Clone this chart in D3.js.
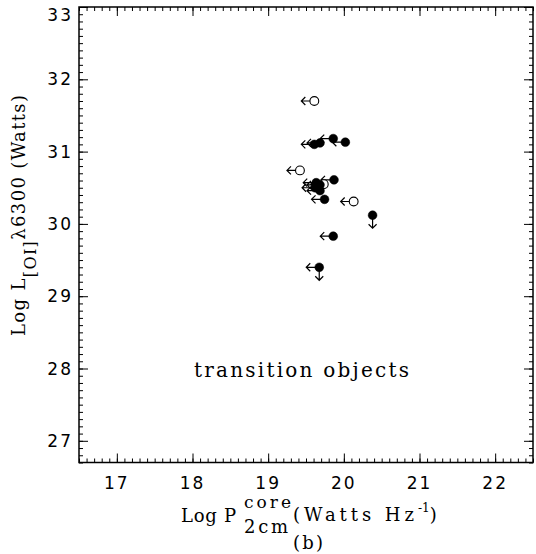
<!DOCTYPE html>
<html>
<head>
<meta charset="utf-8">
<script src="https://cdn.jsdelivr.net/npm/d3@7"></script>
<style>
body { margin: 0; background: #fff; }
svg { display: block; }
</style>
</head>
<body>
<svg width="536" height="554"></svg>
<script>
const svgWidth = 536;
const svgHeight = 554;

// values
const logP = [19.61, 19.86, 20.02, 19.685, 19.61, 19.42, 19.87, 19.735, 19.635, 19.685,
              19.62, 19.685, 19.745, 20.13, 20.38, 19.86, 19.675];
const logL = [31.70, 31.18, 31.13, 31.12, 31.10, 30.74, 30.61, 30.55, 30.57, 30.54,
              30.50, 30.46, 30.34, 30.31, 30.12, 29.83, 29.40];
const symbol = ["open", "filled", "filled", "filled", "filled", "open", "filled", "open", "filled", "filled",
                "filled", "filled", "filled", "open", "filled", "filled", "filled"];
const limit = ["left", "left", "left", "left", "left", "left", "left", "left", "left", "left",
               "left", "left", "left", "left", "down", "left", "both"];

const xMajor = [17, 18, 19, 20, 21, 22];
const yMajor = [27, 28, 29, 30, 31, 32, 33];
const xMinor = d3.range(165, 226).map(d => d / 10);
const yMinor = d3.range(267, 331).map(d => d / 10);

const xScale = d3.scaleLinear()
    .domain([16.5, 22.5])
    .range([79, 533]);

const yScale = d3.scaleLinear()
    .domain([26.7, 33])
    .range([462.5, 7]);

const svg = d3.select("svg");

function drawAxis(axis, transform, ticks, size) {
    const g = svg.append("g")
        .attr("transform", transform)
        .call(axis.tickValues(ticks).tickSize(-size).tickFormat(""));
    g.select(".domain").remove();
    g.selectAll("line").attr("stroke", "#000").attr("stroke-width", 1);
    return g;
}

// minor + major ticks on all four sides, pointing inward
drawAxis(d3.axisBottom(xScale), "translate(0,462.5)", xMinor, 4);
drawAxis(d3.axisBottom(xScale), "translate(0,462.5)", xMajor, 9);
drawAxis(d3.axisTop(xScale), "translate(0,7)", xMinor, 4);
drawAxis(d3.axisTop(xScale), "translate(0,7)", xMajor, 9);
drawAxis(d3.axisLeft(yScale), "translate(79,0)", yMinor, 4);
drawAxis(d3.axisLeft(yScale), "translate(79,0)", yMajor, 9);
drawAxis(d3.axisRight(yScale), "translate(533,0)", yMinor, 4);
drawAxis(d3.axisRight(yScale), "translate(533,0)", yMajor, 9);

svg.append("rect")
    .attr("x", 79).attr("y", 7)
    .attr("width", 454).attr("height", 455.5)
    .attr("fill", "none")
    .attr("stroke", "#000")
    .attr("stroke-width", 1.5);

// tick labels
const tickFont = "'DejaVu Sans', sans-serif";
svg.append("g").selectAll("text")
    .data(xMajor)
    .enter().append("text")
    .attr("x", d => xScale(d))
    .attr("y", 489)
    .attr("text-anchor", "middle")
    .attr("font-family", tickFont)
    .attr("font-size", 17)
    .attr("letter-spacing", 2)
    .text(d => d);

svg.append("g").selectAll("text")
    .data(yMajor)
    .enter().append("text")
    .attr("x", 73)
    .attr("y", d => Math.max(yScale(d), 15))
    .attr("dy", "0.36em")
    .attr("text-anchor", "end")
    .attr("font-family", tickFont)
    .attr("font-size", 17)
    .attr("letter-spacing", 2)
    .text(d => d);

// limit arrows
const arrowLen = 13;
const head = 4;
const pts = logP.map((p, i) => ({ x: xScale(p), y: yScale(logL[i]), sym: symbol[i], lim: limit[i] }));

const arrows = svg.append("g")
    .attr("fill", "none")
    .attr("stroke", "#000")
    .attr("stroke-width", 1.2);

pts.forEach(d => {
    if (d.lim === "left" || d.lim === "both") {
        const tip = d.x - arrowLen;
        arrows.append("path")
            .attr("d", `M${d.x},${d.y}H${tip}M${tip + head},${d.y - head}L${tip},${d.y}L${tip + head},${d.y + head}`);
    }
    if (d.lim === "down" || d.lim === "both") {
        const tip = d.y + arrowLen;
        arrows.append("path")
            .attr("d", `M${d.x},${d.y}V${tip}M${d.x - head},${tip - head}L${d.x},${tip}L${d.x + head},${tip - head}`);
    }
});

svg.append("g").selectAll("circle")
    .data(pts)
    .enter().append("circle")
    .attr("cx", d => d.x)
    .attr("cy", d => d.y)
    .attr("r", 4.4)
    .attr("fill", d => d.sym === "open" ? "#fff" : "#000")
    .attr("stroke", "#000")
    .attr("stroke-width", d => d.sym === "open" ? 1.1 : 0.5);

// labels
const serif = "'DejaVu Serif', serif";

svg.append("text")
    .attr("x", 194).attr("y", 376.5)
    .attr("font-family", serif)
    .attr("font-size", 20)
    .attr("textLength", 215)
    .attr("lengthAdjust", "spacing")
    .text("transition objects");

function label(txt, x, y, size, len) {
    return svg.append("text")
        .attr("x", x).attr("y", y)
        .attr("font-family", serif)
        .attr("font-size", size)
        .attr("textLength", len)
        .attr("lengthAdjust", "spacing")
        .text(txt);
}

label("Log P", 181, 522, 18, 55);
label("core", 244, 508, 17, 47);
label("2cm", 244, 533, 18, 44);
const watts = svg.append("text")
    .attr("x", 293).attr("y", 521)
    .attr("font-family", serif)
    .attr("font-size", 18);
watts.append("tspan").attr("textLength", 121).attr("lengthAdjust", "spacing").text("(Watts Hz");
watts.append("tspan").attr("dy", -9).attr("font-size", 12).text("-1");
watts.append("tspan").attr("dy", 9).text(")");
label("(b)", 293, 549, 18, 30);

const ytitle = svg.append("text")
    .attr("transform", "translate(25,336) rotate(-90)")
    .attr("font-family", serif)
    .attr("font-size", 18)
    .attr("textLength", 241)
    .attr("lengthAdjust", "spacing");
ytitle.append("tspan").text("Log L");
ytitle.append("tspan").attr("dy", 11).attr("font-size", 16).text("[OI]");
ytitle.append("tspan").attr("dy", -11).text("λ6300 (Watts)");
</script>
</body>
</html>
